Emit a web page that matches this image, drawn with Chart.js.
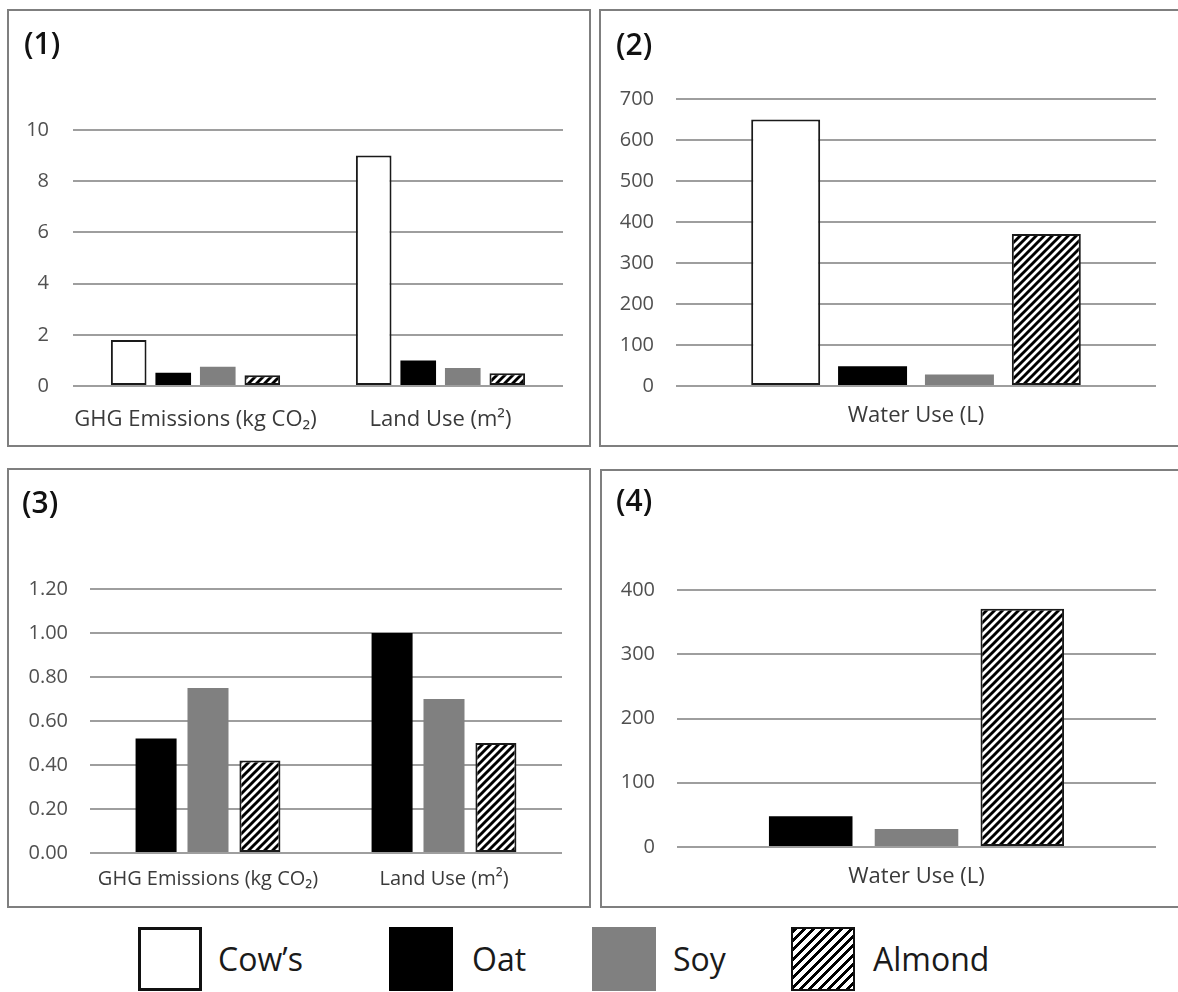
<!DOCTYPE html>
<html>
<head>
<meta charset="utf-8">
<script src="https://cdn.jsdelivr.net/npm/chart.js@4.4.1/dist/chart.umd.min.js"></script>
<style>
  html, body { margin: 0; padding: 0; background: #fff; }
  body { width: 1178px; height: 992px; position: relative; overflow: hidden; font-family: "Open Sans", sans-serif; }
  .frame { position: absolute; box-sizing: border-box; border: 2px solid #7f7f7f; }
  canvas { position: absolute; }
  .tag { position: absolute; font-size: 30px; line-height: 30px; font-weight: 600; color: #111; }
  .key { position: absolute; top: 927px; width: 64px; height: 64px; box-sizing: border-box; }
  .keytxt { position: absolute; top: 943px; font-size: 32px; line-height: 32px; color: #1a1a1a; }
</style>
</head>
<body>
<div class="frame" style="left:7px;top:9px;width:584px;height:438px"></div>
<div class="frame" style="left:599px;top:9px;width:585px;height:438px"></div>
<div class="frame" style="left:7px;top:468px;width:584px;height:440px"></div>
<div class="frame" style="left:600px;top:469px;width:584px;height:439px"></div>

<canvas id="c1"></canvas>
<canvas id="c2"></canvas>
<canvas id="c3"></canvas>
<canvas id="c4"></canvas>

<div class="tag" style="left:24px;top:28px">(1)</div>
<div class="tag" style="left:616px;top:29px">(2)</div>
<div class="tag" style="left:22px;top:487px">(3)</div>
<div class="tag" style="left:616px;top:485px">(4)</div>

<div class="key" style="left:138px;border:3px solid #111;background:#fff"></div>
<div class="keytxt" style="left:218px">Cow’s</div>
<div class="key" style="left:389px;background:#000"></div>
<div class="keytxt" style="left:472px">Oat</div>
<div class="key" style="left:592px;background:#808080"></div>
<div class="keytxt" style="left:673px">Soy</div>
<div class="key" style="left:791px;border:2px solid #111;background:repeating-linear-gradient(135deg,#000 0 3px,#fff 3px 6.6px)"></div>
<div class="keytxt" style="left:873px">Almond</div>

<script>
// categories
const ghgLandCats = ['GHG Emissions (kg CO₂)', 'Land Use (m²)'];
const waterCats = ['Water Use (L)'];

// series values, per milk
const cowsGhgLand = [1.8, 9.0];
const oatGhgLand = [0.52, 1.0];
const soyGhgLand = [0.75, 0.70];
const almondGhgLand = [0.42, 0.50];

const cowsWater = [650];
const oatWater = [48];
const soyWater = [28];
const almondWater = [371];

// y tick labels per panel
const ticks1 = [0, 2, 4, 6, 8, 10];
const ticks2 = [0, 100, 200, 300, 400, 500, 600, 700];
const ticks3 = [0, 0.2, 0.4, 0.6, 0.8, 1.0, 1.2];
const ticks4 = [0, 100, 200, 300, 400];

Chart.defaults.font.family = '"Open Sans", sans-serif';
Chart.defaults.animation = false;

function hatch(ctx) {
  const t = document.createElement('canvas');
  t.width = 8; t.height = 8;
  const c = t.getContext('2d');
  c.fillStyle = '#fff';
  c.fillRect(0, 0, 8, 8);
  c.strokeStyle = '#000';
  c.lineWidth = 2.9;
  c.beginPath();
  c.moveTo(-2, 10); c.lineTo(10, -2);
  c.moveTo(-2, 2); c.lineTo(2, -2);
  c.moveTo(6, 10); c.lineTo(10, 6);
  c.stroke();
  return ctx.createPattern(t, 'repeat');
}

function style(kind, pat) {
  if (kind === 'cow') return { backgroundColor: '#fff', borderColor: '#1a1a1a', borderWidth: 2 };
  if (kind === 'oat') return { backgroundColor: '#000', borderWidth: 0 };
  if (kind === 'soy') return { backgroundColor: '#808080', borderWidth: 0 };
  return { backgroundColor: pat, borderColor: '#1a1a1a', borderWidth: 2 };
}

function panel(id, p) {
  const [L, T, R, B] = p.box;
  const [pl, pt, pr, pb] = p.plot;
  const cv = document.getElementById(id);
  cv.width = R - L;
  cv.height = B - T;
  cv.style.left = L + 'px';
  cv.style.top = T + 'px';
  const ctx = cv.getContext('2d');
  const pat = hatch(ctx);
  const lh = p.catFont * 1.2;

  new Chart(ctx, {
    type: 'bar',
    data: {
      labels: p.cats,
      datasets: p.series.map(s => Object.assign({
        label: s.label,
        data: s.data,
        borderSkipped: false,
        categoryPercentage: p.catPct,
        barPercentage: p.barPct
      }, style(s.kind, pat)))
    },
    options: {
      responsive: false,
      layout: { padding: { left: 0, top: pt - T, right: R - pr, bottom: 0 } },
      plugins: { legend: { display: false }, tooltip: { enabled: false } },
      scales: {
        x: {
          grid: { display: false, drawTicks: false },
          border: { display: false },
          ticks: {
            color: '#3a3a3a',
            font: { size: p.catFont },
            padding: p.labelY - pb - lh / 2,
            maxRotation: 0, minRotation: 0, autoSkip: false
          },
          afterFit: s => { s.height = B - pb; }
        },
        y: {
          min: p.ticks[0],
          max: p.ticks[p.ticks.length - 1],
          grid: { color: '#9e9e9e', lineWidth: 2, drawTicks: false },
          border: { display: false },
          ticks: {
            stepSize: p.ticks[1] - p.ticks[0],
            color: '#505050',
            font: { size: 20 },
            padding: p.tickGap,
            callback: p.fmt
          },
          afterFit: s => { s.width = pl - L; }
        }
      }
    }
  });
}

panel('c1', {
  box: [7, 9, 591, 447], plot: [73, 130, 563, 386],
  tickGap: 24, labelY: 420, catFont: 22, catPct: 0.727, barPct: 0.8,
  cats: ghgLandCats, ticks: ticks1, fmt: v => v,
  series: [
    { label: "Cow's", data: cowsGhgLand, kind: 'cow' },
    { label: 'Oat', data: oatGhgLand, kind: 'oat' },
    { label: 'Soy', data: soyGhgLand, kind: 'soy' },
    { label: 'Almond', data: almondGhgLand, kind: 'almond' }
  ]
});

panel('c2', {
  box: [599, 9, 1178, 447], plot: [676, 99, 1156, 386],
  tickGap: 22, labelY: 416, catFont: 22, catPct: 0.724, barPct: 0.794,
  cats: waterCats, ticks: ticks2, fmt: v => v,
  series: [
    { label: "Cow's", data: cowsWater, kind: 'cow' },
    { label: 'Oat', data: oatWater, kind: 'oat' },
    { label: 'Soy', data: soyWater, kind: 'soy' },
    { label: 'Almond', data: almondWater, kind: 'almond' }
  ]
});

panel('c3', {
  box: [7, 468, 591, 908], plot: [90, 589, 562, 853],
  tickGap: 22, labelY: 879, catFont: 20, catPct: 0.66, barPct: 0.79,
  cats: ghgLandCats, ticks: ticks3, fmt: v => Number(v).toFixed(2),
  series: [
    { label: 'Oat', data: oatGhgLand, kind: 'oat' },
    { label: 'Soy', data: soyGhgLand, kind: 'soy' },
    { label: 'Almond', data: almondGhgLand, kind: 'almond' }
  ]
});

panel('c4', {
  box: [600, 469, 1178, 908], plot: [677, 590, 1156, 847],
  tickGap: 22, labelY: 877, catFont: 22, catPct: 0.6625, barPct: 0.79,
  cats: waterCats, ticks: ticks4, fmt: v => v,
  series: [
    { label: 'Oat', data: oatWater, kind: 'oat' },
    { label: 'Soy', data: soyWater, kind: 'soy' },
    { label: 'Almond', data: almondWater, kind: 'almond' }
  ]
});
</script>
</body>
</html>
